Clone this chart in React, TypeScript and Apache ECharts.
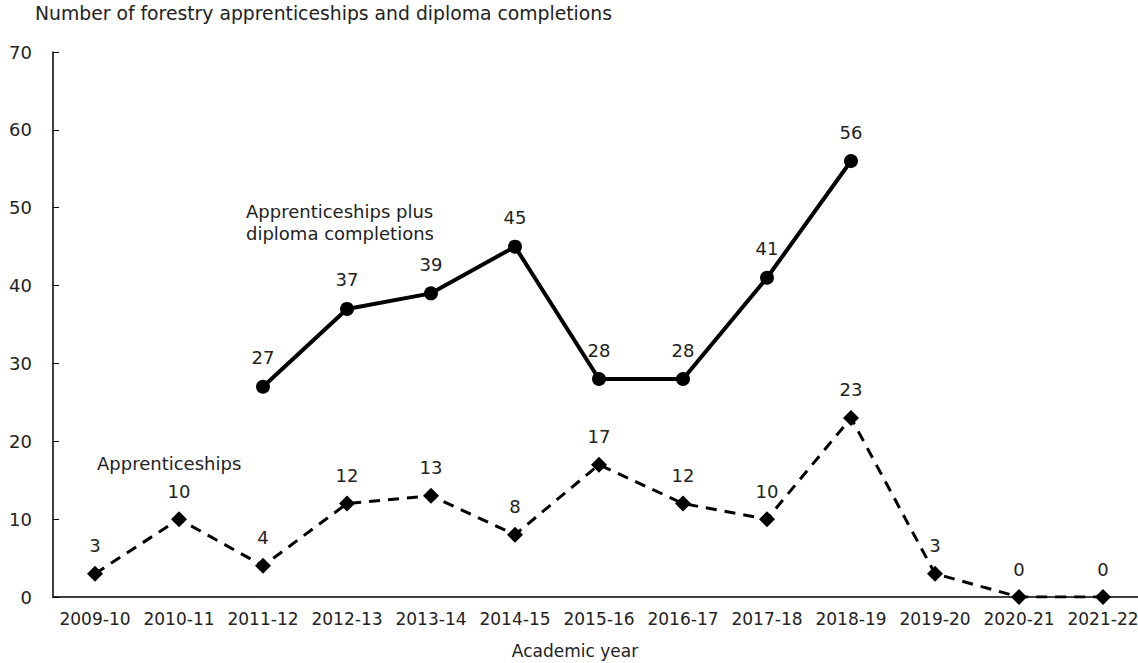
import React, { useEffect, useRef } from "react";
import * as echarts from "echarts";

const years = ["2009-10","2010-11","2011-12","2012-13","2013-14","2014-15","2015-16","2016-17","2017-18","2018-19","2019-20","2020-21","2021-22"];
const apprenticeships = [3,10,4,12,13,8,17,12,10,23,3,0,0];
const plusDiploma = [null,null,27,37,39,45,28,28,41,56,null,null,null];
const yTitle = "Number of forestry apprenticeships and diploma completions";
const xTitle = "Academic year";
const labelPlus = "Apprenticeships plus\ndiploma completions";
const labelAppr = "Apprenticeships";

const FONT = "Verdana, 'DejaVu Sans', sans-serif";

export default function App() {
  const ref = useRef<HTMLDivElement>(null);
  useEffect(() => {
    const chart = echarts.init(ref.current!, null, { renderer: "svg" });
    chart.setOption({
      animation: false,
      textStyle: { fontFamily: FONT },
      grid: { left: 53, right: 1, top: 52, bottom: 66 },
      xAxis: {
        type: "category",
        data: years,
        boundaryGap: true,
        axisLine: { lineStyle: { color: "#000", width: 1.5 } },
        axisTick: { inside: true, length: 6, lineStyle: { color: "#000" } },
        axisLabel: { fontSize: 17, color: "#222", margin: 13, fontFamily: FONT, interval: 0 },
      },
      yAxis: {
        type: "value",
        min: 0,
        max: 70,
        interval: 10,
        axisLine: { show: true, lineStyle: { color: "#000", width: 1.5 } },
        axisTick: { show: true, inside: true, length: 6, lineStyle: { color: "#000" } },
        axisLabel: { fontSize: 18, color: "#222", margin: 21, fontFamily: FONT },
        splitLine: { show: false },
      },
      graphic: [
        { type: "text", left: 35, top: 4, style: { text: yTitle, fontSize: 18.8, fill: "#222", fontFamily: FONT } },
        { type: "text", left: 246, top: 200, style: { text: labelPlus, fontSize: 18, fill: "#222", fontFamily: FONT, lineHeight: 22 } },
        { type: "text", left: 97, top: 454, style: { text: labelAppr, fontSize: 18, fill: "#222", fontFamily: FONT } },
        { type: "text", x: 575, y: 651, style: { text: xTitle, fontSize: 17, fill: "#222", fontFamily: FONT, align: "center", verticalAlign: "middle" } },
      ],
      series: [
        {
          type: "line",
          data: plusDiploma,
          symbol: "circle",
          symbolSize: 14,
          lineStyle: { color: "#000", width: 4 },
          itemStyle: { color: "#000" },
          label: { show: true, position: "top", distance: 13, fontSize: 18, color: "#222", fontFamily: FONT },
        },
        {
          type: "line",
          data: apprenticeships,
          symbol: "diamond",
          symbolSize: 16,
          lineStyle: { color: "#000", width: 3, type: [11, 8] },
          itemStyle: { color: "#000" },
          label: { show: true, position: "top", distance: 11, fontSize: 18, color: "#222", fontFamily: FONT },
        },
      ],
    });
    return () => chart.dispose();
  }, []);
  return <div ref={ref} style={{ position: "fixed", left: 0, top: 0, width: 1146, height: 663, background: "#fff" }} />;
}
